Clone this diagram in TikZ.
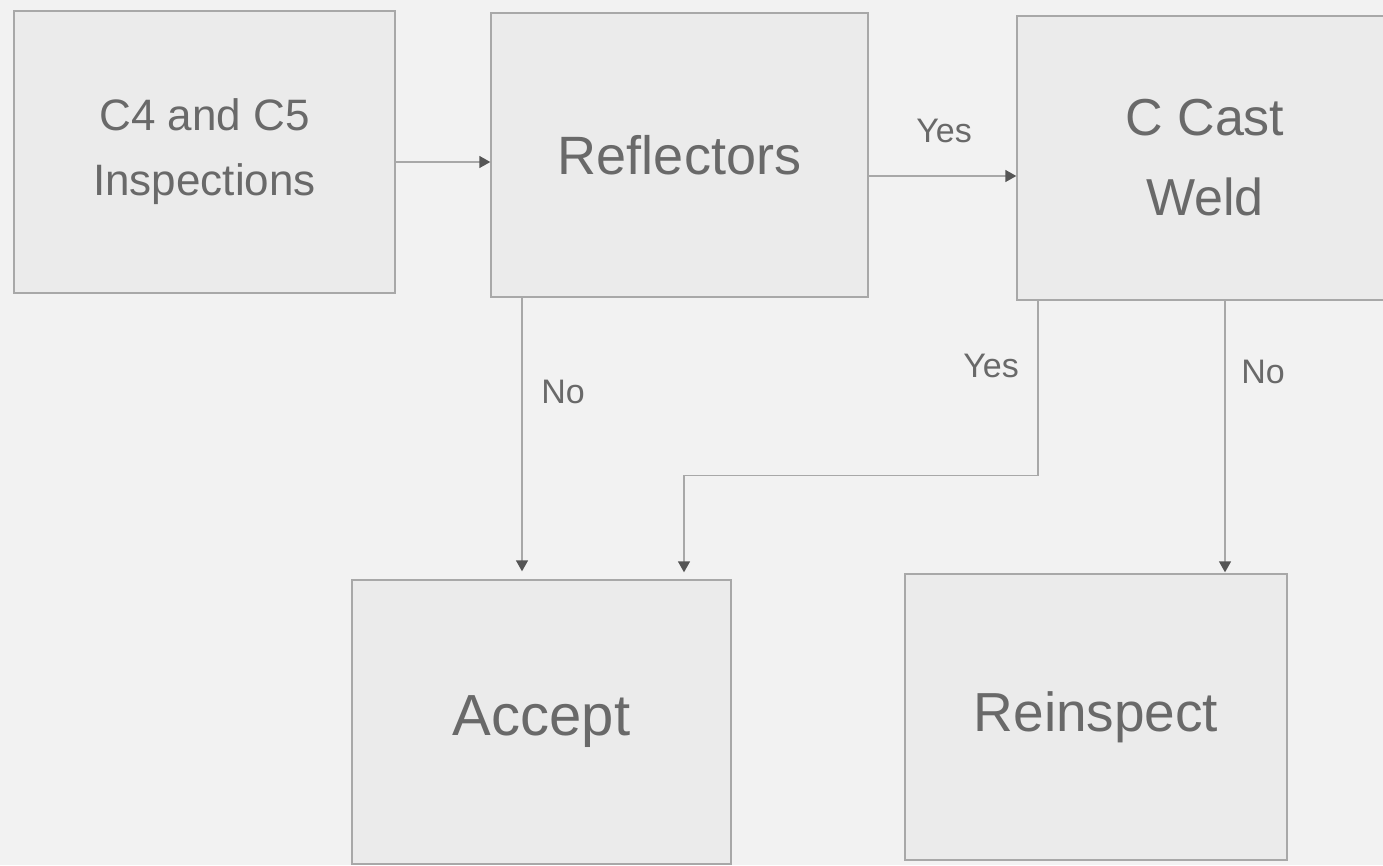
\documentclass[tikz,border=0pt]{standalone}
\usepackage{fontspec}
\setmainfont{Liberation Sans}
\usetikzlibrary{arrows.meta}
\definecolor{PageGray}{RGB}{242,242,242}
\definecolor{BoxGray}{RGB}{235,235,235}
\definecolor{EdgeGray}{RGB}{168,168,168}
\definecolor{InkGray}{RGB}{105,105,105}
\definecolor{TipGray}{RGB}{85,85,85}
\tikzset{
  flowbox/.style={
    draw=EdgeGray,
    line width=1.4pt,
    fill=BoxGray,
    align=center,
    text=InkGray,
    inner sep=0pt
  },
  arrow/.style={
    draw=EdgeGray,
    line width=1.4pt,
    -{Triangle[length=11pt,width=12pt,color=TipGray,fill=TipGray]}
  },
  answer/.style={text=InkGray,font=\fontsize{34}{40}\selectfont}
}

\begin{document}
\begin{tikzpicture}[x=1pt,y=-1pt]

\fill[PageGray] (0,0) rectangle (1383,865);
\useasboundingbox (0,0) rectangle (1383,865);

\node[flowbox,minimum width=381pt,minimum height=282pt,
  font=\fontsize{44}{65}\selectfont] (insp) at (204.5,152)
  {C4 and C5\\Inspections};
\node[flowbox,minimum width=377pt,minimum height=284pt,
  font=\fontsize{54}{64}\selectfont] (refl) at (679.5,155)
  {Reflectors};
\node[flowbox,minimum width=376pt,minimum height=284pt,
  font=\fontsize{52}{80}\selectfont] (weld) at (1205,158)
  {C Cast\\Weld};
\node[flowbox,minimum width=379pt,minimum height=284pt,
  font=\fontsize{58}{68}\selectfont] (accept) at (541.5,722)
  {Accept};
\node[flowbox,minimum width=382pt,minimum height=286pt,
  font=\fontsize{55}{66}\selectfont] (reinsp) at (1096,717)
  {Reinspect};

\draw[arrow] ([yshift=-10pt]insp.east) -- ([yshift=-10pt]insp.east -| refl.west);
\draw[arrow] ([yshift=-21pt]refl.east) -- ([yshift=-21pt]refl.east -| weld.west);

\draw[arrow,shorten >=8pt] ([xshift=-157.5pt]refl.south) -- ([xshift=-19.5pt]accept.north);
\draw[arrow,shorten >=7pt] ([xshift=-167pt]weld.south) -- ++(0,175)
  -| ([xshift=142.5pt]accept.north);
\draw[arrow,shorten >=1pt] ([xshift=20pt]weld.south) -- ([xshift=129pt]reinsp.north);

\node[answer] (yes1) at (944,131) {Yes};
\node[answer] (no1) at (563,392) {No};
\node[answer] (yes2) at (991,366) {Yes};
\node[answer] (no2) at (1263,372) {No};

\end{tikzpicture}
\end{document}
